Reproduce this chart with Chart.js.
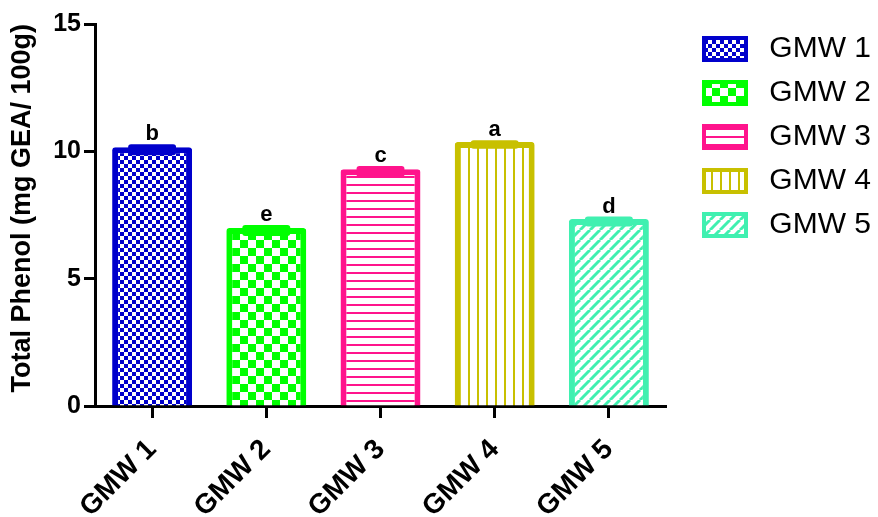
<!DOCTYPE html>
<html>
<head>
<meta charset="utf-8">
<script src="https://cdn.jsdelivr.net/npm/chart.js@4.4.1/dist/chart.umd.min.js"></script>
<style>
  html, body { margin: 0; padding: 0; background: #fff; }
</style>
</head>
<body>
<canvas id="phenol" width="878" height="517"></canvas>
<script>
const categories = ['GMW 1', 'GMW 2', 'GMW 3', 'GMW 4', 'GMW 5'];
const phenolMeans = [10.16, 6.99, 9.30, 10.37, 7.34];
const phenolErrors = [0.10, 0.10, 0.10, 0.05, 0.08];
const groupLetters = ['b', 'e', 'c', 'a', 'd'];
const yTicks = [0, 5, 10, 15];

const barColors = ['rgb(0,0,204)', 'rgb(0,255,0)', 'rgb(255,20,140)', 'rgb(200,192,0)', 'rgb(64,240,176)'];
const fillKinds = ['checkSmall', 'checkBig', 'hlines', 'vlines', 'diag'];

const fontFam = 'Arial, "Liberation Sans", Helvetica, sans-serif';

// tile patterns like the prism hatches
function makePattern(color, kind) {
  const c = document.createElement('canvas');
  const size = {checkSmall: 8, checkBig: 16, hlines: 8, vlines: 9, diag: 10}[kind];
  c.width = size; c.height = size;
  const g = c.getContext('2d');
  g.fillStyle = '#fff';
  g.fillRect(0, 0, size, size);
  g.fillStyle = color;
  g.strokeStyle = color;
  if (kind === 'checkSmall' || kind === 'checkBig') {
    const h = size / 2;
    g.fillRect(0, 0, h, h);
    g.fillRect(h, h, h, h);
  } else if (kind === 'hlines') {
    g.fillRect(0, 0, size, 2);
  } else if (kind === 'vlines') {
    g.fillRect(0, 0, 2, size);
  } else {
    g.lineWidth = 3;
    for (let k = -1; k <= 1; k++) {
      g.beginPath();
      g.moveTo(k * size, size);
      g.lineTo(k * size + size, 0);
      g.stroke();
    }
  }
  return g.createPattern(c, 'repeat');
}

const barFills = barColors.map((col, i) => makePattern(col, fillKinds[i]));

const chartRight = 666;   // where the x axis stops
const legendShift = {x: 24, y: -4};

const legendPlace = {
  id: 'legendPlace',
  afterInit(chart) {
    const fit = chart.legend.fit;
    chart.legend.fit = function() {
      fit.call(this);
      this.width = chart.width - chartRight;
    };
  },
  afterLayout(chart) {
    const lg = chart.legend;
    lg.left += legendShift.x; lg.right += legendShift.x;
    lg.top += legendShift.y; lg.bottom += legendShift.y;
  }
};

const errorBars = {
  id: 'errorBars',
  afterDatasetsDraw(chart) {
    const {ctx} = chart;
    const y = chart.scales.y;
    const meta = chart.getDatasetMeta(0);
    ctx.save();
    meta.data.forEach((bar, i) => {
      const top = y.getPixelForValue(phenolMeans[i] + phenolErrors[i]) + 2.5;
      const bot = y.getPixelForValue(phenolMeans[i] - phenolErrors[i]) + 2.5;
      ctx.strokeStyle = barColors[i];
      ctx.lineWidth = 6;
      ctx.lineCap = 'round';
      ctx.beginPath();
      ctx.moveTo(bar.x - 21, top); ctx.lineTo(bar.x + 21, top);
      ctx.moveTo(bar.x, top); ctx.lineTo(bar.x, bot);
      ctx.moveTo(bar.x - 21, bot); ctx.lineTo(bar.x + 21, bot);
      ctx.stroke();

      ctx.fillStyle = '#000';
      ctx.font = 'bold 22px ' + fontFam;
      ctx.textAlign = 'center';
      ctx.textBaseline = 'alphabetic';
      ctx.fillText(groupLetters[i], bar.x, top - 7);
    });
    ctx.restore();
  }
};

new Chart(document.getElementById('phenol'), {
  type: 'bar',
  data: {
    labels: categories,
    datasets: [{
      label: 'Total Phenol',
      data: phenolMeans,
      backgroundColor: barFills,
      borderColor: barColors,
      borderWidth: 6,
      borderRadius: 3,
      borderSkipped: 'start',
      barPercentage: 0.7,
      categoryPercentage: 1.0
    }]
  },
  options: {
    animation: false,
    responsive: false,
    devicePixelRatio: 1,
    layout: {
      padding: {top: 24, right: 0, bottom: 0, left: 0}
    },
    plugins: {
      tooltip: {enabled: false},
      legend: {
        position: 'right',
        align: 'start',
        labels: {
          boxWidth: 42,
          boxHeight: 22,
          padding: 14,
          color: '#000',
          font: {family: fontFam, size: 30},
          useBorderRadius: true,
          borderRadius: 3,
          generateLabels(chart) {
            const ds = chart.data.datasets[0];
            return chart.data.labels.map((txt, i) => ({
              text: ' ' + txt,
              fillStyle: ds.backgroundColor[i],
              strokeStyle: ds.borderColor[i],
              lineWidth: 4,
              fontColor: '#000',
              hidden: false,
              index: i
            }));
          }
        }
      }
    },
    scales: {
      x: {
        type: 'category',
        offset: true,
        afterFit(scale) { scale.height = 111; },
        border: {display: true, width: 3, color: '#000'},
        grid: {
          offset: false,
          drawOnChartArea: false,
          drawTicks: true,
          tickLength: 12,
          tickWidth: 3,
          tickColor: '#000'
        },
        ticks: {
          color: '#000',
          font: {family: fontFam, size: 28, weight: 'bold', lineHeight: 0.6},
          minRotation: 45,
          maxRotation: 45,
          padding: 21
        }
      },
      y: {
        min: 0,
        max: 15,
        afterFit(scale) { scale.width = 95; },
        afterBuildTicks(scale) { scale.ticks = yTicks.map(v => ({value: v})); },
        border: {display: true, width: 3, color: '#000'},
        grid: {
          drawOnChartArea: false,
          drawTicks: true,
          tickLength: 11,
          tickWidth: 3,
          tickColor: '#000'
        },
        ticks: {
          color: '#000',
          font: {family: fontFam, size: 25, weight: 'bold'},
          padding: 3
        },
        title: {
          display: true,
          align: 'end',
          text: 'Total Phenol (mg GEA/ 100g)',
          color: '#000',
          font: {family: fontFam, size: 27, weight: 'bold'},
          padding: {top: 6, bottom: 0}
        }
      }
    }
  },
  plugins: [legendPlace, errorBars]
});
</script>
</body>
</html>
